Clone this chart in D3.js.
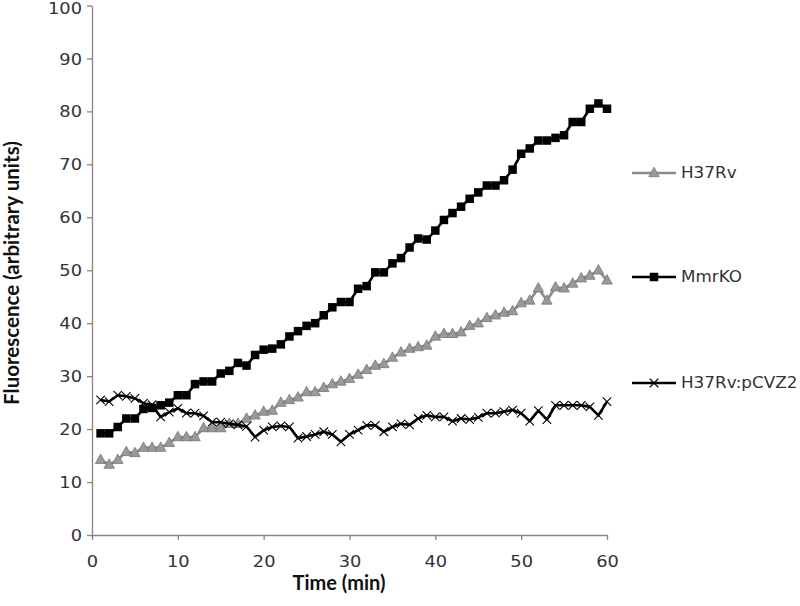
<!DOCTYPE html>
<html><head><meta charset="utf-8">
<script src="https://cdn.jsdelivr.net/npm/d3@7"></script>
<style>body{margin:0;background:#fff;}svg{display:block;}</style>
</head><body>
<svg id="chart" width="800" height="606"></svg>
<script>
const times = d3.range(1, 61);
const seriesNames = ["H37Rv", "MmrKO", "H37Rv:pCVZ2"];
const h37rv = [14.2,13.3,14.2,15.7,15.5,16.5,16.5,16.5,17.4,18.5,18.5,18.5,20.2,20.2,20.2,21,21,22,22.6,23.3,23.5,25,25.5,26,27,27,27.8,28.5,29,29.5,30.3,31.2,32,32.3,33.5,34.5,35.2,35.5,35.8,37.5,38,38,38.3,39.5,40,41,41.5,42,42.3,43.8,44.3,46.6,44.3,46.8,46.6,47.5,48.5,49,50,48.1];
const mmrKO = [19.2,19.2,20.4,22,22,23.8,24,24.5,25,26.4,26.4,28.5,29,29,30.5,31,32.5,32,34,35,35.2,36,37.5,38.5,39.5,40,41.5,43,44,44,46.5,47,49.6,49.6,51.3,52.3,54.3,56,55.8,57.5,59.5,60.8,62,63.5,64.7,66,66,67,69,72,73,74.5,74.5,75,75.5,78,78,80.5,81.5,80.5];
const pcvz2 = [25.5,25.2,26.4,26.2,25.8,24.9,24.6,22.3,23.2,23.9,23,23,22.5,21.3,21.3,21,20.8,20.5,18.5,19.8,20.4,20.6,20.4,18.3,18.6,19,19.5,19,17.6,19,19.8,20.7,20.7,19.5,20.4,21,20.8,22,22.6,22.3,22.3,21.5,22,21.8,22.2,23,23,23.3,23.6,23,21.5,23.5,21.8,24.5,24.5,24.5,24.5,24.2,22.6,25.2];
const xTicks = [0,10,20,30,40,50,60];
const yTicks = [0,10,20,30,40,50,60,70,80,90,100];

const svg = d3.select("#chart");
const x = d3.scaleLinear().domain([0,60]).range([92,607]);
const y = d3.scaleLinear().domain([0,100]).range([535,5.5]);
const axisColor = "#868686";
const tickFont = "Verdana, 'DejaVu Sans', sans-serif";
const titleFont = "Lato, 'Open Sans', sans-serif";
const stretch = 1.15;

function stretchText(sel){
  sel.each(function(){
    const t = d3.select(this);
    const xv = +(t.attr("x") || 0);
    t.attr("x", xv/stretch).attr("transform", `scale(${stretch},1)`);
  });
}

// Y axis
const yAxis = svg.append("g").attr("transform","translate(92,0)")
  .call(d3.axisLeft(y).tickValues(yTicks).tickSize(5).tickPadding(5).tickSizeOuter(0));
yAxis.select(".domain").attr("stroke",axisColor).attr("stroke-width",1.3);
yAxis.selectAll(".tick line").attr("stroke",axisColor).attr("stroke-width",1.3);
yAxis.selectAll("text").attr("font-family",tickFont).attr("font-size",15.5)
  .attr("fill","#333").attr("dy", d => d===100 ? "0.5em" : "0.36em").call(stretchText);

// X axis
const xAxis = svg.append("g").attr("transform","translate(0,535)")
  .call(d3.axisBottom(x).tickValues(xTicks).tickSize(5).tickPadding(16).tickSizeOuter(0));
xAxis.select(".domain").attr("stroke",axisColor).attr("stroke-width",1.3);
xAxis.selectAll(".tick line").attr("stroke",axisColor).attr("stroke-width",1.3);
xAxis.selectAll("text").attr("font-family",tickFont).attr("font-size",15.5)
  .attr("fill","#333").call(stretchText);

// Titles
svg.append("text").attr("x",339).attr("y",590).attr("text-anchor","middle")
  .attr("font-family",titleFont).attr("font-weight","bold").attr("font-size",20)
  .attr("fill","#111").text("Time (min)");
svg.append("text").attr("transform","translate(19,273) rotate(-90)").attr("text-anchor","middle")
  .attr("font-family",titleFont).attr("font-weight","bold").attr("font-size",20.5)
  .attr("fill","#111").text("Fluorescence (arbitrary units)");

const line = d3.line().x((d,i)=>x(times[i])).y(d=>y(d));
const gray = "#8a8a8a";

function drawSeries(data, color, marker){
  svg.append("path").datum(data).attr("d",line).attr("fill","none")
    .attr("stroke",color).attr("stroke-width",2.6).attr("stroke-linejoin","round");
  const g = svg.append("g");
  data.forEach((d,i)=>{ marker(g, x(times[i]), y(d)); });
}
function square(g,cx,cy,s=8.5){
  g.append("rect").attr("x",cx-s/2).attr("y",cy-s/2).attr("width",s).attr("height",s).attr("fill","#000");
}
function triangle(g,cx,cy,s=10.5){
  const h = s*0.9;
  g.append("path").attr("d",`M${cx},${cy-h/2-1}L${cx+s/2},${cy+h/2-1}L${cx-s/2},${cy+h/2-1}Z`)
    .attr("fill","#999").attr("stroke","#777").attr("stroke-width",0.8);
}
function cross(g,cx,cy,s=8.5){
  const r=s/2;
  g.append("path").attr("d",`M${cx-r},${cy-r}L${cx+r},${cy+r}M${cx-r},${cy+r}L${cx+r},${cy-r}`)
    .attr("stroke","#000").attr("stroke-width",1.1).attr("fill","none");
}

drawSeries(h37rv, gray, triangle);
drawSeries(mmrKO, "#000", square);
drawSeries(pcvz2, "#000", cross);

// Legend
const legendY = [173, 277, 383];
const legendColors = [gray, "#000", "#000"];
const markers = [triangle, square, cross];
seriesNames.forEach((name,i)=>{
  const ly = legendY[i];
  svg.append("line").attr("x1",632).attr("x2",676).attr("y1",ly).attr("y2",ly)
    .attr("stroke",legendColors[i]).attr("stroke-width",2.6);
  markers[i](svg, 654, ly);
  svg.append("text").attr("x",681/1.12).attr("y",ly+5.5).attr("transform","scale(1.12,1)")
    .attr("font-family",tickFont).attr("font-size",15)
    .attr("fill","#333").text(name);
});
</script>
</body></html>
